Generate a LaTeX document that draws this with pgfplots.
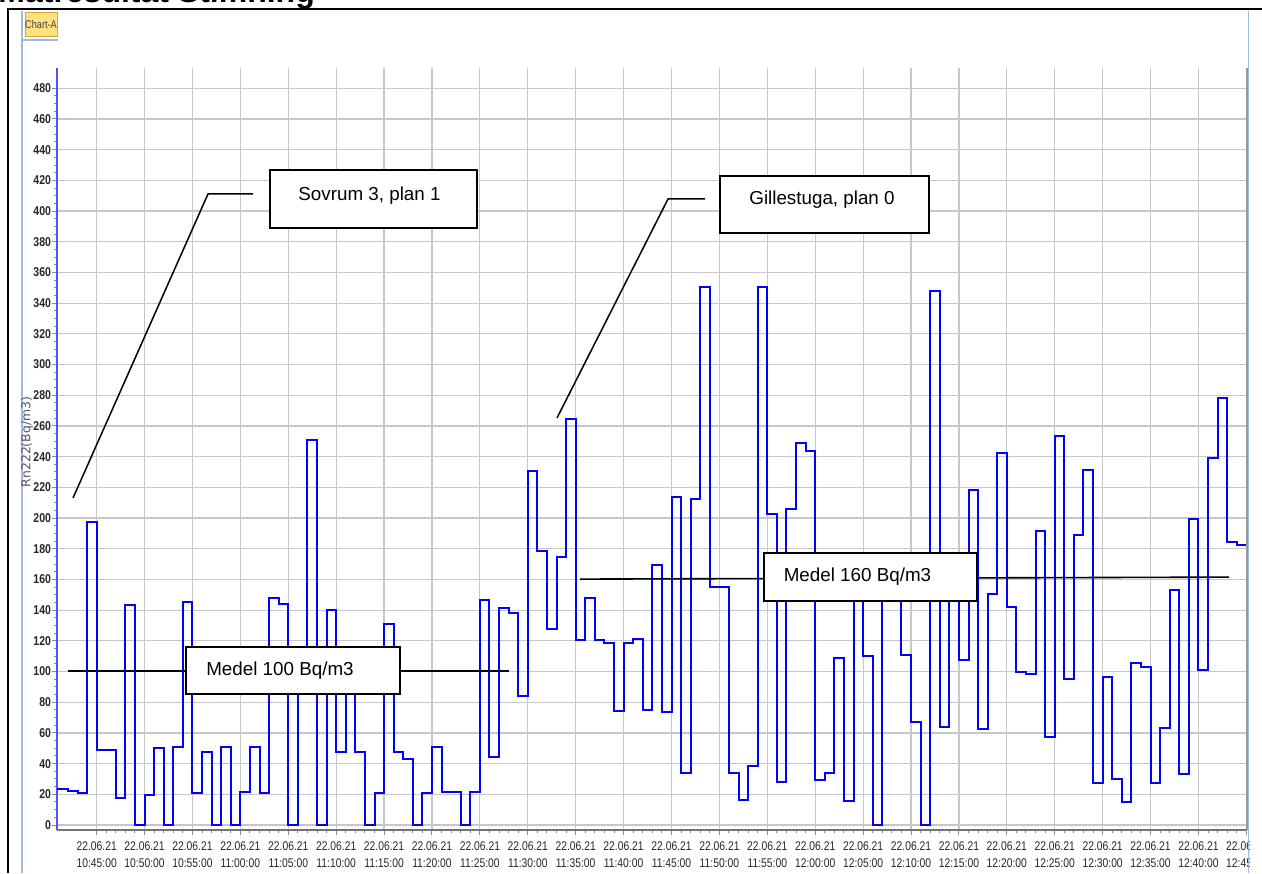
\documentclass[border=0pt]{standalone}
\usepackage{fontspec}
\setmainfont{Liberation Sans}
\newfontfamily\tickfont[FakeStretch=0.82]{Liberation Sans}
\newfontfamily\dejavu{DejaVu Sans}
\usepackage{pgfplots}
\pgfplotsset{compat=1.18}
\definecolor{lblue}{RGB}{160,185,220}
\definecolor{tabfill}{RGB}{255,225,130}
\definecolor{tabdraw}{RGB}{215,165,60}
\definecolor{ylab}{RGB}{85,85,105}
\begin{document}
\begin{tikzpicture}
\useasboundingbox (0,0) rectangle (631pt,436.5pt);
\begin{scope}
\clip (0,0) rectangle (624.5pt,436.5pt);
\begin{axis}[
  at={(28.5pt,21.5pt)}, anchor=south west,
  scale only axis, width=595pt, height=381pt,
  xmin=-4.14, xmax=120.07, ymin=-3.26, ymax=493.2,
  axis x line*=bottom, axis y line*=left,
  x axis line style={draw=black!55, line width=1.3pt},
  y axis line style={draw={rgb,255:red,80;green,80;blue,255}, line width=1pt},
  xtick={0,5,...,120}, minor x tick num=4,
  ytick={0,20,...,480}, minor y tick num=3,
  xticklabels={{22.06.21\\10:45:00},{22.06.21\\10:50:00},{22.06.21\\10:55:00},{22.06.21\\11:00:00},{22.06.21\\11:05:00},{22.06.21\\11:10:00},{22.06.21\\11:15:00},{22.06.21\\11:20:00},{22.06.21\\11:25:00},{22.06.21\\11:30:00},{22.06.21\\11:35:00},{22.06.21\\11:40:00},{22.06.21\\11:45:00},{22.06.21\\11:50:00},{22.06.21\\11:55:00},{22.06.21\\12:00:00},{22.06.21\\12:05:00},{22.06.21\\12:10:00},{22.06.21\\12:15:00},{22.06.21\\12:20:00},{22.06.21\\12:25:00},{22.06.21\\12:30:00},{22.06.21\\12:35:00},{22.06.21\\12:40:00},{22.06.21\\12:45:00}},
  x tick label style={font=\tickfont\fontsize{6.3}{8.2}\selectfont, align=center, text=black!85},
  y tick label style={font=\tickfont\bfseries\fontsize{6.4}{7}\selectfont, text=black!85, xshift=3pt, /pgf/number format/assume math mode=true},
  grid=major, major grid style={black!22, line width=0.6pt},
  tick align=outside, tick style={black!45, line width=0.5pt},
  major tick length=2.5pt, minor tick length=1.3pt,
]
\addplot[const plot, draw={rgb,255:red,0;green,0;blue,255}, line width=1pt] coordinates {
(-4.14,23.3) (-3,22.2) (-2,21.1) (-1,197.4) (0,48.9) (1,48.9) (2,17.6) (3,143.5) (4,0) (5,19.8)
(6,50.2) (7,0) (8,51) (9,145.4) (10,20.7) (11,47.8) (12,0) (13,51) (14,0) (15,21.5)
(16,51) (17,20.7) (18,147.6) (19,143.7) (20,0) (21,100) (22,251) (23,0) (24,139.8) (25,47.4)
(26,100) (27,47.4) (28,0) (29,20.7) (30,131) (31,47.4) (32,43) (33,0) (34,20.7) (35,50.7)
(36,21.3) (37,21.3) (38,0) (39,21.3) (40,146.3) (41,44.1) (42,141.5) (43,138) (44,84.3) (45,230.6)
(46,178.3) (47,127.5) (48,174.4) (49,264.3) (50,120.5) (51,148) (52,120.5) (53,118.6) (54,74) (55,118.6)
(56,121.4) (57,74.7) (58,169.6) (59,73.5) (60,213.7) (61,34.2) (62,212.5) (63,350.6) (64,155) (65,155)
(66,34.2) (67,16.1) (68,38.3) (69,350.6) (70,202.7) (71,28.2) (72,205.8) (73,248.7) (74,243.9) (75,29.4)
(76,34.2) (77,108.7) (78,15.4) (79,160) (80,110.1) (81,0) (82,155) (83,150) (84,111) (85,67.2)
(86,0) (87,348.2) (88,63.9) (89,160) (90,107.2) (91,218) (92,62.4) (93,150.6) (94,242.2) (95,142.2)
(96,99.8) (97,98.6) (98,191.3) (99,57.6) (100,253.5) (101,95.4) (102,189.2) (103,231.3) (104,27.5) (105,96.6)
(106,30.1) (107,14.7) (108,105.3) (109,102.9) (110,27.5) (111,62.9) (112,152.8) (113,33) (114,199.3) (115,101)
(116,239) (117,278.3) (118,184.3) (119,182.4) (120.07,182.4)
};
\addplot[black, line width=0.8pt] coordinates {(-3,100.3) (43,100.3)};
\addplot[black, line width=0.8pt] coordinates {(50.45,160.2) (118.2,161.5)};
\end{axis}
\end{scope}
\begin{scope}[x=0.5pt,y=-0.5pt,shift={(0pt,436.5pt)}]
% clipped title (cut off by page edge)
\node[anchor=base west, inner sep=0, font=\fontsize{16}{16}\bfseries\selectfont] at (-2,3) {Mätresultat Stimning};
% frames
\draw[black!40, line width=1pt] (1247,68) -- (1247,830);
\draw[lblue, line width=0.6pt] (22,873) -- (22,11) (22,40) -- (58,40) (1248.8,11) -- (1248.8,873);
\draw[black, line width=1.25pt] (8,873) -- (8,9) -- (1262,9);
% Chart-A tab
\draw[fill=tabfill, draw=tabdraw, line width=0.5pt] (25,13) rectangle (57,37);
\node[font=\tickfont\fontsize{5.6}{6}\selectfont, text=black!75] at (41,25) {Chart-A};
% y label
\node[rotate=90, font=\dejavu\fontsize{6.2}{7}\selectfont, text=ylab] at (27,442) {Rn222(Bq/m3)};
% annotations
\draw[black, line width=0.75pt] (73,498) -- (208,194) -- (253,194);
\draw[black, line width=0.75pt] (557,418) -- (668,199) -- (705,199);
\draw[black, line width=1pt, fill=white] (270,170) rectangle (477,228);
\node[font=\fontsize{9.4}{10}\selectfont] at (369.5,196) {Sovrum 3, plan 1};
\draw[black, line width=1pt, fill=white] (720,176) rectangle (929,233);
\node[font=\fontsize{9.4}{10}\selectfont] at (822,200) {Gillestuga, plan 0};
\draw[black, line width=1pt, fill=white] (186,647) rectangle (400,694);
\node[font=\fontsize{9.4}{10}\selectfont] at (280,671) {Medel 100 Bq/m3};
\draw[black, line width=1pt, fill=white] (764,553) rectangle (977,601);
\node[font=\fontsize{9.4}{10}\selectfont] at (857.5,577) {Medel 160 Bq/m3};
\end{scope}
\end{tikzpicture}
\end{document}
